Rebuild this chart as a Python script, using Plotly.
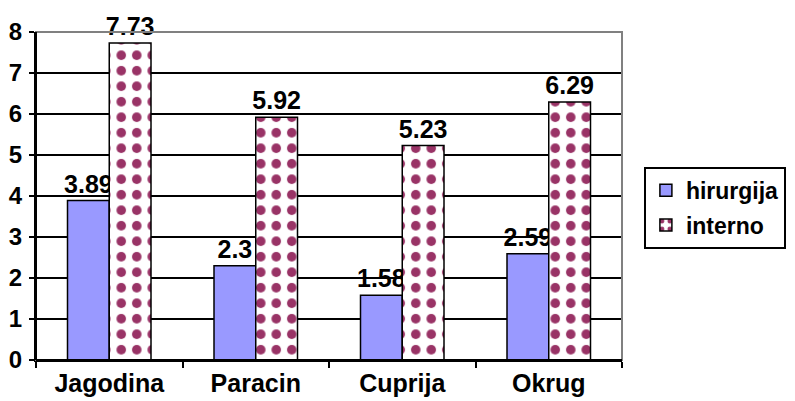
import plotly.graph_objects as go

categories = ["Jagodina", "Paracin", "Cuprija", "Okrug"]
hirurgija = [3.89, 2.3, 1.58, 2.59]
interno = [7.73, 5.92, 5.23, 6.29]
hir_labels = ["3.89", "2.3", "1.58", "2.59"]
int_labels = ["7.73", "5.92", "5.23", "6.29"]
y_ticks = [0, 1, 2, 3, 4, 5, 6, 7, 8]

FONT = "Liberation Sans, Arial, sans-serif"

fig = go.Figure()
fig.add_trace(go.Bar(
    name="<b>hirurgija</b>", x=categories, y=hirurgija,
    text=["<b>%s</b>" % t for t in hir_labels], textposition="outside",
    textfont=dict(size=25, color="black", family=FONT),
    constraintext="none", cliponaxis=False,
    marker=dict(color="#9999FF", line=dict(color="black", width=1.5)),
    legendgroup="a",
))
fig.add_trace(go.Bar(
    name="<b>interno</b>", x=categories, y=interno,
    text=["<b>%s</b>" % t for t in int_labels], textposition="outside",
    textfont=dict(size=25, color="black", family=FONT),
    constraintext="none", cliponaxis=False,
    marker=dict(color="white", line=dict(color="black", width=1.5),
                pattern=dict(shape=".", fgcolor="#993366", bgcolor="white",
                             size=15.5, solidity=0.3, fillmode="replace",
                             fgopacity=1)),
    legendgroup="b",
))

fig.update_layout(
    width=787, height=393,
    margin=dict(l=28, r=173, t=24, b=41),
    paper_bgcolor="white", plot_bgcolor="white",
    barmode="group", bargap=0.43, bargroupgap=0,
    font=dict(family=FONT, color="black", size=24),
    showlegend=True,
    uniformtext=dict(mode=False),
    legend=dict(xref="container", yref="container",
                x=0.808, y=0.596, xanchor="left", yanchor="top",
                bordercolor="black", borderwidth=2, bgcolor="white",
                font=dict(size=23, family=FONT, color="black"),
                tracegroupgap=2, itemwidth=30),
    xaxis=dict(showline=True, linecolor="black", linewidth=2, automargin=False,
               ticks="outside", tickson="boundaries", ticklen=6, tickwidth=2,
               tickcolor="black", showgrid=False,
               tickfont=dict(size=25, family=FONT), ticklabelstandoff=0),
    yaxis=dict(range=[0, 8], tickvals=y_ticks, automargin=False,
               ticktext=["<b>%d</b>" % v for v in y_ticks],
               showline=True, linecolor="black", linewidth=2,
               ticks="outside", ticklen=5, tickwidth=2, tickcolor="black",
               showgrid=True, gridcolor="black", gridwidth=2, zeroline=False,
               tickfont=dict(size=24, family=FONT), ticklabelstandoff=2),
)
fig.update_xaxes(ticktext=["<b>%s</b>" % c for c in categories], tickvals=categories)
fig.add_shape(type="rect", xref="paper", yref="paper", x0=0, x1=1, y0=0, y1=1,
              line=dict(color="#808080", width=2), layer="above")
fig.add_shape(type="line", xref="paper", yref="paper", x0=0, x1=0, y0=0, y1=1,
              line=dict(color="black", width=2), layer="above")
fig.add_shape(type="line", xref="paper", yref="paper", x0=0, x1=1, y0=0, y1=0,
              line=dict(color="black", width=2), layer="above")

fig.write_html("out.html")
